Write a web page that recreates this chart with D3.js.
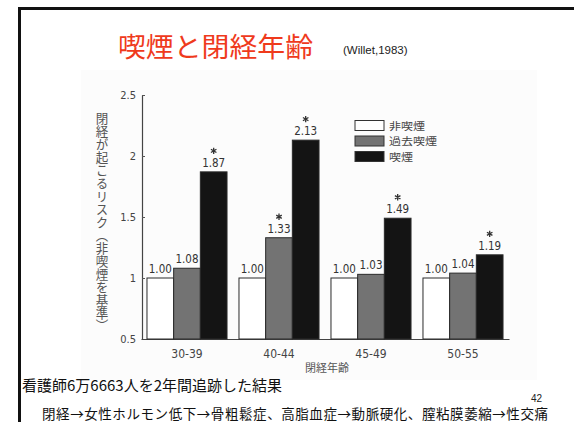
<!DOCTYPE html>
<html><head><meta charset="utf-8">
<script src="https://cdn.jsdelivr.net/npm/d3@7"></script>
<style>
html,body{margin:0;padding:0;background:#fff;}
svg{display:block;}
</style></head>
<body>
<svg id="c" width="574" height="422"></svg>
<script>
const categories = ["30-39", "40-44", "45-49", "50-55"];
const seriesNames = ["非喫煙", "過去喫煙", "喫煙"];
const nonSmoker = [1.00, 1.00, 1.00, 1.00];
const pastSmoker = [1.08, 1.33, 1.03, 1.04];
const smoker = [1.87, 2.13, 1.49, 1.19];
const pastSignificant = [false, true, false, false];
const smokerSignificant = [true, true, true, true];
const yTicks = [0.5, 1, 1.5, 2, 2.5];
const yTickLabels = ["0.5", "1", "1.5", "2", "2.5"];

const seriesValues = [nonSmoker, pastSmoker, smoker];
const seriesSig = [nonSmoker.map(() => false), pastSignificant, smokerSignificant];
const seriesFill = ["#ffffff", "#737373", "#141414"];

const svg = d3.select("#c");
const condensed = "'Liberation Sans Narrow','DejaVu Sans Condensed','Liberation Sans',sans-serif";
const jp = "'Noto Sans CJK JP','Noto Sans CJK SC',sans-serif";

// frame
svg.append("path").attr("d", "M19.5,422 L19.5,8.5 L574,8.5")
  .attr("fill", "none").attr("stroke", "#111").attr("stroke-width", 3);
// subtle scanned background
svg.append("rect").attr("x", 81).attr("y", 70).attr("width", 456).attr("height", 310).attr("fill", "#fcfcfc");

// title
svg.append("text").attr("x", 118).attr("y", 57).attr("font-family", jp).attr("font-size", 27)
  .attr("fill", "#ef3a1c").attr("textLength", 195).attr("lengthAdjust", "spacingAndGlyphs").text("喫煙と閉経年齢");
svg.append("text").attr("x", 343).attr("y", 54).attr("font-family", "'Liberation Sans',Arial,sans-serif")
  .attr("font-size", 11.5).attr("fill", "#222").text("(Willet,1983)");

const x0 = d3.scaleBand().domain(categories).range([141, 509]).paddingInner(0.13).paddingOuter(0.065);
const x1 = d3.scaleBand().domain(d3.range(seriesNames.length)).range([0, x0.bandwidth()]);
const y = d3.scaleLinear().domain([0.5, 2.5]).range([339, 95]);

// y axis
const yAxis = d3.axisLeft(y).tickValues(yTicks).tickFormat((d, i) => yTickLabels[i])
  .tickSizeInner(-3).tickSizeOuter(0).tickPadding(6);
const gy = svg.append("g").attr("transform", "translate(142,0)").call(yAxis);
gy.selectAll("text").attr("font-family", condensed).attr("font-size", 11).attr("fill", "#444");
gy.selectAll("line").attr("stroke", "#555");
gy.select(".domain").attr("stroke", "#444").attr("stroke-width", 1.2);

// x axis
const xAxis = d3.axisBottom(x0).tickSize(0).tickPadding(10);
const gx = svg.append("g").attr("transform", "translate(0,339)").call(xAxis);
gx.select(".domain").attr("stroke", "#444").attr("stroke-width", 1.2);
gx.selectAll("text").attr("font-family", condensed).attr("font-size", 12).attr("fill", "#444");

// bars
const groups = svg.append("g").selectAll("g").data(categories).join("g")
  .attr("transform", d => `translate(${x0(d)},0)`);
const star = d3.symbol().type(d3.symbolAsterisk).size(28)();
seriesValues.forEach((vals, s) => {
  groups.append("rect")
    .attr("x", x1(s)).attr("width", x1.bandwidth())
    .attr("y", (d, i) => y(vals[i])).attr("height", (d, i) => y(0.5) - y(vals[i]))
    .attr("fill", seriesFill[s]).attr("stroke", "#2a2a2a").attr("stroke-width", 1);
  const cx = x1(s) + x1.bandwidth() / 2;
  groups.append("text")
    .attr("x", cx).attr("y", (d, i) => y(vals[i]) - 5)
    .attr("text-anchor", "middle").attr("font-family", condensed).attr("font-size", 11.5).attr("fill", "#333")
    .text((d, i) => d3.format(".2f")(vals[i]));
  groups.filter((d, i) => seriesSig[s][i]).append("path")
    .attr("d", star)
    .attr("transform", d => `translate(${cx},${y(vals[categories.indexOf(d)]) - 21})`)
    .attr("fill", "none").attr("stroke", "#333").attr("stroke-width", 1.3);
});

// y title (vertical)
svg.append("text").attr("x", 102).attr("y", 112)
  .style("writing-mode", "vertical-rl").attr("font-family", jp).attr("font-size", 12.5)
  .attr("fill", "#555").attr("textLength", 220).attr("lengthAdjust", "spacingAndGlyphs")
  .text("閉経が起こるリスク（非喫煙を基準）");

// x title
svg.append("text").attr("x", 327).attr("y", 372).attr("text-anchor", "middle")
  .attr("font-family", jp).attr("font-size", 11).attr("fill", "#555").text("閉経年齢");

// legend
const leg = svg.append("g").selectAll("g").data(seriesNames).join("g")
  .attr("transform", (d, i) => `translate(355,${125.5 + i * 15.5})`);
leg.append("rect").attr("x", 0).attr("y", -5).attr("width", 29).attr("height", 10)
  .attr("fill", (d, i) => seriesFill[i]).attr("stroke", "#333").attr("stroke-width", 1);
leg.append("text").attr("x", 34).attr("y", 4).attr("font-family", jp).attr("font-size", 10.5)
  .attr("fill", "#444").attr("textLength", d => d.length * 12).attr("lengthAdjust", "spacingAndGlyphs")
  .text(d => d);

// notes
svg.append("text").attr("x", 22).attr("y", 391).attr("font-family", jp).attr("font-size", 15)
  .attr("fill", "#111").text("看護師6万6663人を2年間追跡した結果");
svg.append("text").attr("x", 531).attr("y", 402).attr("font-family", "'Liberation Sans',Arial,sans-serif")
  .attr("font-size", 10).attr("fill", "#222").text("42");
svg.append("text").attr("x", 42).attr("y", 419).attr("font-family", jp).attr("font-size", 13.5)
  .attr("fill", "#111").attr("textLength", 506).attr("lengthAdjust", "spacing")
  .text("閉経→女性ホルモン低下→骨粗鬆症、高脂血症→動脈硬化、膣粘膜萎縮→性交痛");
</script>
</body></html>
